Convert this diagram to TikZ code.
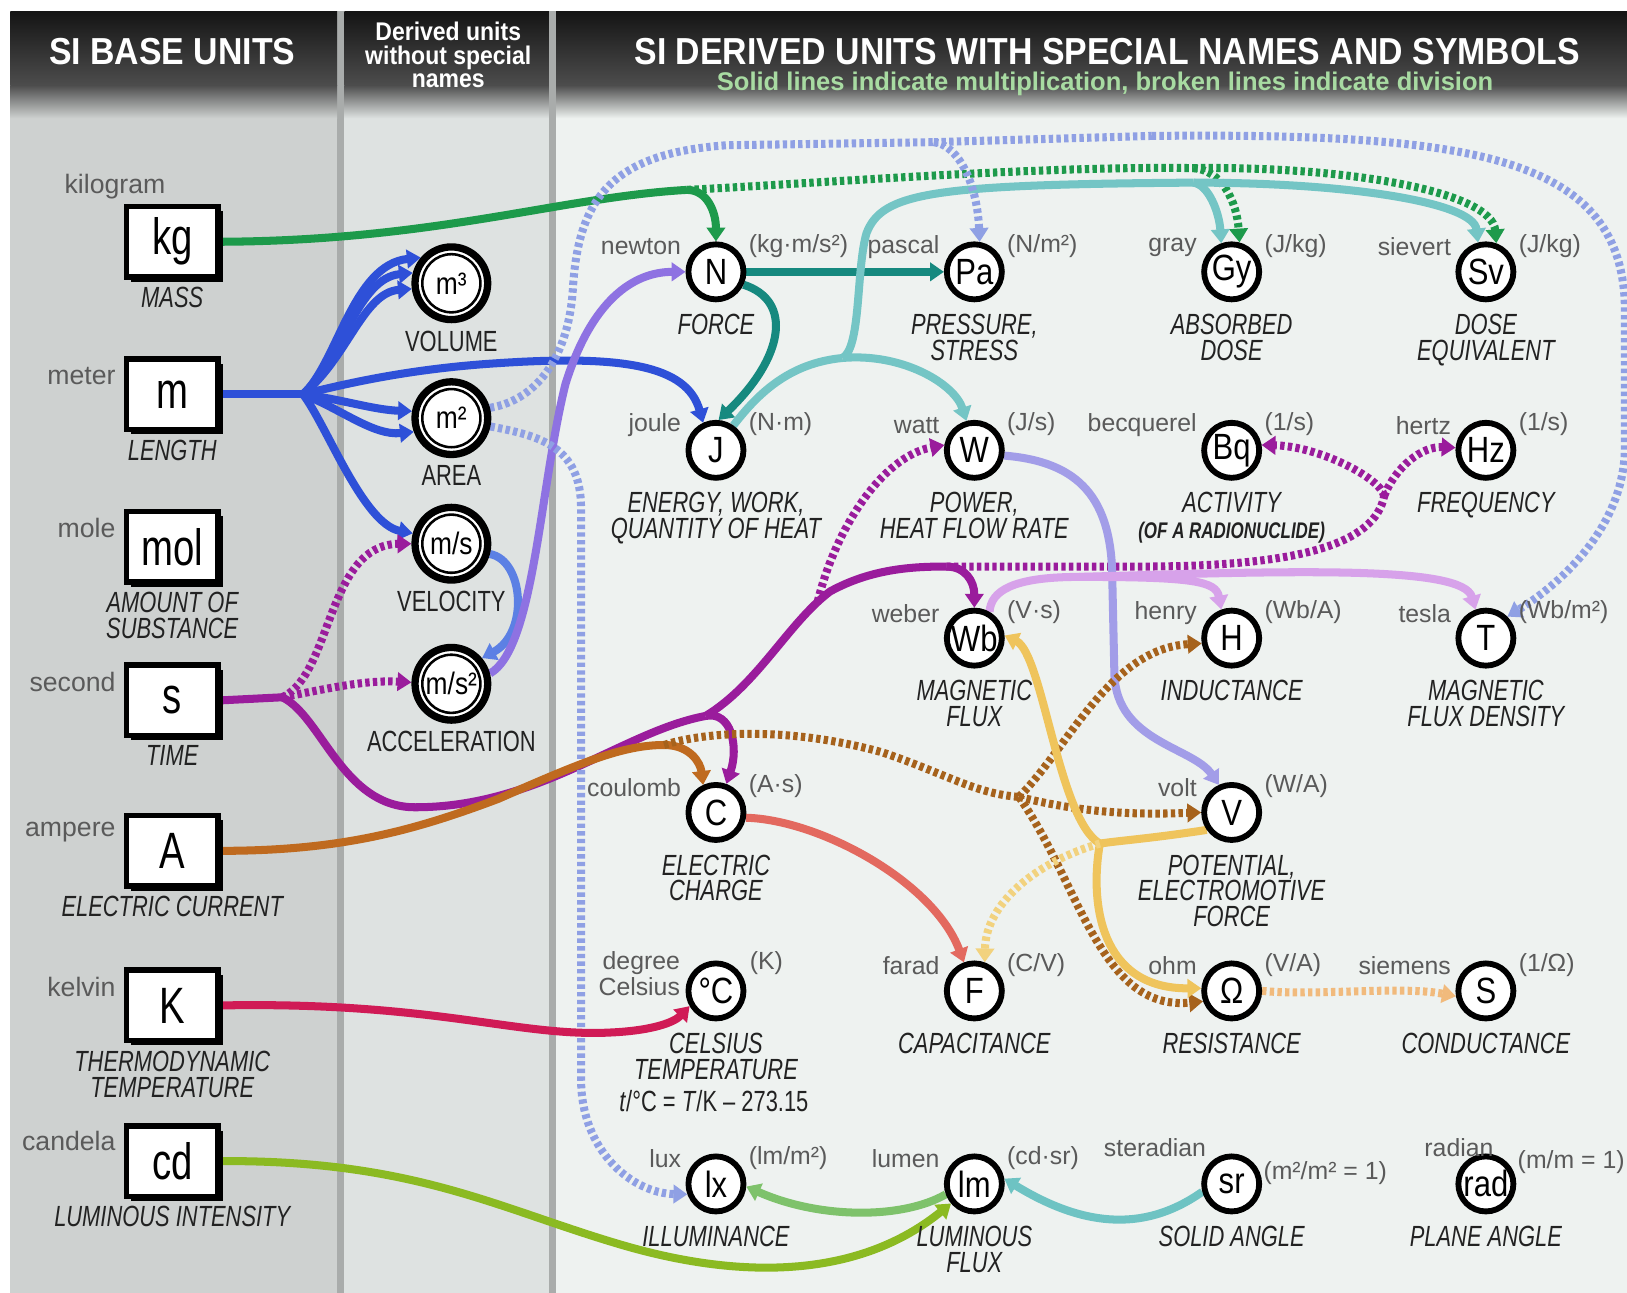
\documentclass[tikz,border=0pt]{standalone}
\usepackage{fontspec}
\setmainfont{Liberation Sans}
\newfontfamily\condfont[FakeStretch=0.75]{Liberation Sans}
\newfontfamily\headfnt[FakeStretch=0.9]{Liberation Sans}
\newfontfamily\ringfont[FakeStretch=0.85]{Liberation Sans}
\usetikzlibrary{arrows.meta,shadows}

\definecolor{colA}{HTML}{CED1D0}
\definecolor{colB}{HTML}{DEE2E1}
\definecolor{colC}{HTML}{EEF2F0}
\definecolor{divc}{HTML}{A9ACAB}
\definecolor{namec}{HTML}{5A5A5A}
\definecolor{descc}{HTML}{222222}
\definecolor{notec}{HTML}{A8DBA2}
\definecolor{kgc}{HTML}{1D9A4B}
\definecolor{mc}{HTML}{2E50D8}
\definecolor{sc}{HTML}{9A1C9C}
\definecolor{ac}{HTML}{BF6A1F}
\definecolor{adc}{HTML}{A6621C}
\definecolor{kc}{HTML}{D01B56}
\definecolor{cdc}{HTML}{8BBA22}
\definecolor{pc}{HTML}{8E72E2}
\definecolor{vc}{HTML}{5C80E4}
\definecolor{dc}{HTML}{8FA0E4}
\definecolor{nc}{HTML}{16897F}
\definecolor{jc}{HTML}{74C5C5}
\definecolor{wvc}{HTML}{A29DE8}
\definecolor{wc}{HTML}{D7A2EA}
\definecolor{vyc}{HTML}{EFC45C}
\definecolor{vyd}{HTML}{F2D27E}
\definecolor{cc}{HTML}{E3695F}
\definecolor{oc}{HTML}{F1BA7C}
\definecolor{src}{HTML}{6EC3C3}
\definecolor{lmc}{HTML}{7EC26B}

\pgfdeclarelayer{back}
\pgfdeclarelayer{links}
\pgfsetlayers{back,links,main}

\tikzset{
  basebox/.style={draw, line width=1.5pt, fill=white, minimum width=0.88cm, minimum height=0.68cm, inner sep=0pt,
    font=\condfont\fontsize{14}{14}\selectfont, drop shadow={shadow xshift=1.3pt, shadow yshift=-1.3pt, fill=black, opacity=1}},
  ring/.style={circle, draw, line width=2pt, fill=white, minimum size=0.70cm, inner sep=0pt, font=\ringfont\fontsize{8.5}{8.5}\selectfont},
  sunit/.style={circle, draw, line width=1.6pt, fill=white, minimum size=0.53cm, inner sep=0pt, font=\ringfont\fontsize{10}{10}\selectfont},
  uname/.style={inner sep=0pt, text=namec, font=\fontsize{6.8}{7.1}\selectfont},
  bname/.style={inner sep=0pt, text=namec, font=\fontsize{7.3}{7.3}\selectfont},
  udesc/.style={inner sep=0pt, align=center, text=descc, font=\condfont\itshape\fontsize{8}{7.1}\selectfont},
  rdesc/.style={inner sep=0pt, text=descc, font=\condfont\fontsize{8}{8}\selectfont},
  mul/.style={line width=2.2pt},
  dvd/.style={line width=2.2pt, dash pattern=on 1.2pt off 0.9pt},
  headed/.style={-{Triangle[length=3.8pt,width=5pt]}},
}

\begin{document}
\begin{tikzpicture}[x=0.01cm,y=-0.01cm]
  %%%%% START %%%%%
  \useasboundingbox (0,0) rectangle (1568,1246);

  \begin{pgfonlayer}{back}
    \fill[white] (0,0) rectangle (1568,1246);
    \fill[colA] (10,11) rectangle (325,1246);
    \fill[colB] (332,11) rectangle (529,1246);
    \fill[colC] (536,11) rectangle (1568,1246);
    \fill[divc] (325,11) rectangle (332,1246);
    \fill[divc] (529,11) rectangle (536,1246);
    \foreach \xa/\xb/\cl in {10/325/colA, 332/529/colB, 536/1568/colC}{
      \shade[top color=black!92, bottom color=black!70] (\xa,11) rectangle (\xb,82);
      \shade[top color=black!70, bottom color=\cl] (\xa,82) rectangle (\xb,114);
    }
  \end{pgfonlayer}

  % headings
  \node[text=white, font=\headfnt\bfseries\fontsize{10.3}{11}\selectfont] (h-base) at (166,50) {SI BASE UNITS};
  \node[text=white, align=center, font=\headfnt\bfseries\fontsize{7}{6.5}\selectfont] (h-plain) at (432,53) {Derived units\\without special\\names};
  \node[text=white, font=\headfnt\bfseries\fontsize{10.3}{11}\selectfont] (h-special) at (1067,50) {SI DERIVED UNITS WITH SPECIAL NAMES AND SYMBOLS};
  \node[text=notec, font=\bfseries\fontsize{7}{8}\selectfont] (h-note) at (1065,81) {Solid lines indicate multiplication, broken lines indicate division};

  % base units
  \foreach \id/\y/\nm/\nx/\ny/\desc in {
    kg/233/kilogram/160/180/MASS,
    m/380/meter/112/362/LENGTH,
    mol/527/mole/112/509/{AMOUNT OF\\SUBSTANCE},
    s/675/second/112/657/TIME,
    A/820/ampere/112/802/{ELECTRIC CURRENT},
    K/969/kelvin/112/951/{THERMODYNAMIC\\TEMPERATURE},
    cd/1119/candela/112/1100/{LUMINOUS INTENSITY}}{
    \node[basebox] (b-\id) at (166,\y) {\id};
    \node[bname, anchor=east] (b-\id-name) at (\nx,\ny) {\nm};
    \node[udesc, anchor=north] (b-\id-desc) at (166,\y+43) {\desc};
  }

  % derived units without special names
  \foreach \id/\y/\sym/\desc in {vol/273/m³/VOLUME, area/403/m²/AREA, vel/524/{m/s}/VELOCITY, acc/659/{m/s²}/ACCELERATION}{
    \node[ring] (\id) at (435,\y) {\sym};
    \draw[line width=0.7pt] (\id.center) circle[radius=0.28cm];
    \node[rdesc, anchor=north] (\id-desc) at (435,\y+45) {\desc};
  }

  % derived units with special names
  \foreach \id/\x/\y/\sym/\nm/\un/\desc in {
    N/690/262/N/newton/{(kg·m/s²)}/FORCE,
    Pa/939/262/Pa/pascal/{(N/m²)}/{PRESSURE,\\STRESS},
    Gy/1187/262/Gy/gray/{(J/kg)}/{ABSORBED\\DOSE},
    Sv/1432/262/Sv/sievert/{(J/kg)}/{DOSE\\EQUIVALENT},
    J/690/434/J/joule/{(N·m)}/{ENERGY, WORK,\\QUANTITY OF HEAT},
    W/939/434/W/watt/{(J/s)}/{POWER,\\HEAT FLOW RATE},
    Bq/1187/434/Bq/becquerel/{(1/s)}/{ACTIVITY\\{\bfseries\fontsize{6.2}{8}\selectfont (OF A RADIONUCLIDE)}},
    Hz/1432/434/Hz/hertz/{(1/s)}/FREQUENCY,
    Wb/939/615/Wb/weber/{(V·s)}/{MAGNETIC\\FLUX},
    H/1187/615/H/henry/{(Wb/A)}/INDUCTANCE,
    T/1432/615/T/tesla/{(Wb/m²)}/{MAGNETIC\\FLUX DENSITY},
    C/690/783/C/coulomb/{(A·s)}/{ELECTRIC\\CHARGE},
    V/1187/783/V/volt/{(W/A)}/{POTENTIAL,\\ELECTROMOTIVE\\FORCE},
    F/939/955/F/farad/{(C/V)}/CAPACITANCE,
    Ohm/1187/955/Ω/ohm/{(V/A)}/RESISTANCE,
    S/1432/955/S/siemens/{(1/Ω)}/CONDUCTANCE,
    lx/690/1141/lx/lux/{(lm/m²)}/ILLUMINANCE,
    lm/939/1141/lm/lumen/{(cd·sr)}/{LUMINOUS\\FLUX}}{
    \node[sunit] (\id) at (\x,\y) {\sym};
    \node[uname, anchor=east] (\id-name) at (\x-33,\y-24) {\nm};
    \node[uname, anchor=west] (\id-unit) at (\x+31,\y-25) {\un};
    \node[udesc, anchor=north] (\id-desc) at (\x,\y+40) {\desc};
  }

  \node[sunit] (degC) at (690,955) {°C};
  \node[uname, anchor=east, align=right] (degC-name) at (656,938) {degree\\Celsius};
  \node[uname, anchor=west] (degC-unit) at (722,928) {(K)};
  \node[udesc, anchor=north] (degC-desc) at (690,995) {CELSIUS\\TEMPERATURE};
  \node[rdesc, anchor=north] (degC-rule) at (688,1050) {\textit{t}/°C = \textit{T}/K – 273.15};

  \node[sunit] (sr) at (1187,1141) {sr};
  \node[uname, anchor=east] (sr-name) at (1163,1106) {steradian};
  \node[uname, anchor=west] (sr-unit) at (1217,1131) {(m²/m² = 1)};
  \node[udesc, anchor=north] (sr-desc) at (1187,1181) {SOLID ANGLE};

  \node[sunit] (rad) at (1432,1141) {rad};
  \node[uname, anchor=east] (rad-name) at (1440,1106) {radian};
  \node[uname, anchor=west] (rad-unit) at (1462,1120) {(m/m = 1)};
  \node[udesc, anchor=north] (rad-desc) at (1432,1181) {PLANE ANGLE};

  \begin{pgfonlayer}{links}
    % kilogram
    \coordinate (kgfork) at (662,183);
    \coordinate (kgdiv) at (1150,162);
    \draw[mul, kgc] (b-kg.east) .. controls (420,232) and (540,190) .. (kgfork);
    \draw[mul, kgc, headed] (kgfork) .. controls (682,183) and (690,205) .. (N.north);
    \draw[dvd, kgc] (kgfork) .. controls (800,176) and (1000,160) .. (kgdiv);
    \draw[dvd, kgc, headed] (kgdiv) .. controls (1178,164) and (1192,195) .. (Gy.75);
    \draw[dvd, kgc, headed] (kgdiv) .. controls (1300,160) and (1438,185) .. (Sv.70);

    % meter
    \coordinate (mfork) at (292,380);
    \draw[mul, mc] (b-m.east) -- (mfork);
    \draw[mul, mc, headed] (mfork) .. controls (325,350) and (340,255) .. (vol.140);
    \draw[mul, mc, headed] (mfork) .. controls (330,345) and (345,268) .. (vol.165);
    \draw[mul, mc, headed] (mfork) .. controls (335,345) and (350,282) .. (vol.188);
    \draw[mul, mc, headed] (mfork) .. controls (330,385) and (360,395) .. (area.170);
    \draw[mul, mc, headed] (mfork) .. controls (330,395) and (360,420) .. (area.200);
    \draw[mul, mc, headed] (mfork) .. controls (315,410) and (350,505) .. (vel.165);
    \draw[mul, mc, headed] (mfork) .. controls (340,368) and (400,355) .. (480,350) .. controls (600,342) and (662,352) .. (J.115);

    % second
    \coordinate (sfork) at (272,672);
    \coordinate (sC) at (680,690);
    \coordinate (sW) at (788,580);
    \coordinate (sWb) at (912,546);
    \coordinate (sHz) at (1334,478);
    \draw[mul, sc] (b-s.east) -- (sfork);
    \draw[dvd, sc, headed] (sfork) .. controls (320,650) and (315,525) .. (vel.180);
    \draw[dvd, sc, headed] (sfork) .. controls (310,665) and (350,655) .. (acc.178);
    \draw[mul, sc] (sfork) .. controls (310,690) and (330,778) .. (400,778) .. controls (520,778) and (600,705) .. (sC);
    \draw[mul, sc, headed] (sC) .. controls (705,685) and (712,720) .. (C.70);
    \draw[mul, sc] (sC) .. controls (730,660) and (760,600) .. (800,570) .. controls (840,548) and (880,546) .. (sWb);
    \draw[mul, sc, headed] (sWb) .. controls (930,546) and (939,560) .. (Wb.north);
    \draw[dvd, sc, headed] (sW) .. controls (805,510) and (850,440) .. (W.170);
    \draw[dvd, sc] (sWb) -- (1100,546) .. controls (1250,546) and (1325,525) .. (sHz);
    \draw[dvd, sc, headed] (sHz) .. controls (1330,460) and (1270,430) .. (Bq.10);
    \draw[dvd, sc, headed] (sHz) .. controls (1345,450) and (1370,430) .. (Hz.175);

    % velocity, acceleration
    \draw[mul, vc, headed] (vel.-15) .. controls (505,540) and (510,610) .. (acc.40);
    \draw[mul, pc, headed] (acc.15) .. controls (515,625) and (520,470) .. (545,370) .. controls (570,290) and (610,262) .. (N.180);

    % newton, joule
    \draw[mul, nc, headed] (N.east) -- (Pa.west);
    \draw[mul, nc, headed] (N.-25) .. controls (765,290) and (755,345) .. (J.85);
    \coordinate (jfork) at (812,345);
    \coordinate (jtop) at (1150,176);
    \draw[mul, jc] (J.55) .. controls (730,380) and (760,350) .. (jfork);
    \draw[mul, jc, headed] (jfork) .. controls (870,340) and (920,370) .. (W.105);
    \draw[mul, jc] (jfork) .. controls (830,335) and (825,260) .. (835,225) .. controls (850,185) and (900,178) .. (jtop);
    \draw[mul, jc, headed] (jtop) .. controls (1165,178) and (1175,205) .. (Gy.110);
    \draw[mul, jc, headed] (jtop) .. controls (1300,176) and (1420,195) .. (Sv.105);

    % square metre
    \coordinate (mPa) at (900,137);
    \coordinate (mT) at (1110,131);
    \draw[dvd, dc] (area.15) .. controls (520,385) and (548,340) .. (552,280) .. controls (557,190) and (590,148) .. (700,140) -- (mPa);
    \draw[dvd, dc, headed] (mPa) .. controls (925,140) and (942,180) .. (Pa.80);
    \draw[dvd, dc] (mPa) -- (mT);
    \draw[dvd, dc, headed] (mT) .. controls (1420,128) and (1566,150) .. (1566,300) -- (1566,430) .. controls (1566,510) and (1500,565) .. (T.45);
    \draw[dvd, dc, headed] (area.-12) .. controls (520,420) and (560,430) .. (560,490) -- (560,1040) .. controls (560,1110) and (610,1150) .. (lx.200);

    % watt, weber
    \draw[mul, wvc, headed] (W.-10) .. controls (1040,445) and (1072,480) .. (1072,560) -- (1074,650) .. controls (1076,715) and (1150,720) .. (V.115);
    \coordinate (wbfork) at (1040,556);
    \draw[mul, wc] (Wb.60) .. controls (955,570) and (975,556) .. (wbfork);
    \draw[mul, wc, headed] (wbfork) .. controls (1150,556) and (1172,560) .. (H.110);
    \draw[mul, wc, headed] (wbfork) .. controls (1250,550) and (1410,545) .. (T.110);

    % ampere
    \coordinate (aC) at (640,718);
    \coordinate (aX) at (982,768);
    \draw[mul, ac] (b-A.east) .. controls (330,820) and (400,800) .. (480,770) .. controls (560,735) and (600,718) .. (aC);
    \draw[mul, ac, headed] (aC) .. controls (665,718) and (675,735) .. (C.115);
    \draw[dvd, adc] (aC) .. controls (680,705) and (760,700) .. (850,725) .. controls (910,745) and (940,765) .. (aX);
    \draw[dvd, adc, headed] (aX) .. controls (1050,785) and (1100,785) .. (V.west);
    \draw[dvd, adc, headed] (aX) .. controls (1030,720) and (1070,625) .. (H.190);
    \draw[dvd, adc, headed] (aX) .. controls (1040,850) and (1060,975) .. (Ohm.200);

    % volt, coulomb, ohm
    \coordinate (vfork) at (1060,813);
    \draw[mul, vyc] (V.215) .. controls (1110,808) and (1080,810) .. (vfork);
    \draw[mul, vyc, headed] (vfork) .. controls (1020,790) and (1005,630) .. (Wb.5);
    \draw[mul, vyc, headed] (vfork) .. controls (1050,870) and (1060,953) .. (Ohm.175);
    \draw[dvd, vyd, headed] (vfork) .. controls (1000,830) and (950,870) .. (F.70);
    \draw[mul, cc, headed] (C.-10) .. controls (790,790) and (900,850) .. (F.110);
    \draw[dvd, oc, headed] (Ohm.east) .. controls (1270,960) and (1350,950) .. (S.190);

    % kelvin, candela, lumen
    \draw[mul, kc, headed] (b-K.east) .. controls (420,965) and (500,1000) .. (590,995) .. controls (630,993) and (650,985) .. (degC.210);
    \draw[mul, cdc, headed] (b-cd.east) .. controls (400,1118) and (480,1165) .. (600,1200) .. controls (720,1235) and (830,1230) .. (lm.220);
    \draw[mul, src, headed] (sr.195) .. controls (1100,1190) and (1040,1180) .. (lm.10);
    \draw[mul, lmc, headed] (lm.200) .. controls (870,1175) and (790,1175) .. (lx.-5);
  \end{pgfonlayer}
  %%%%% END %%%%%
\end{tikzpicture}
\end{document}
